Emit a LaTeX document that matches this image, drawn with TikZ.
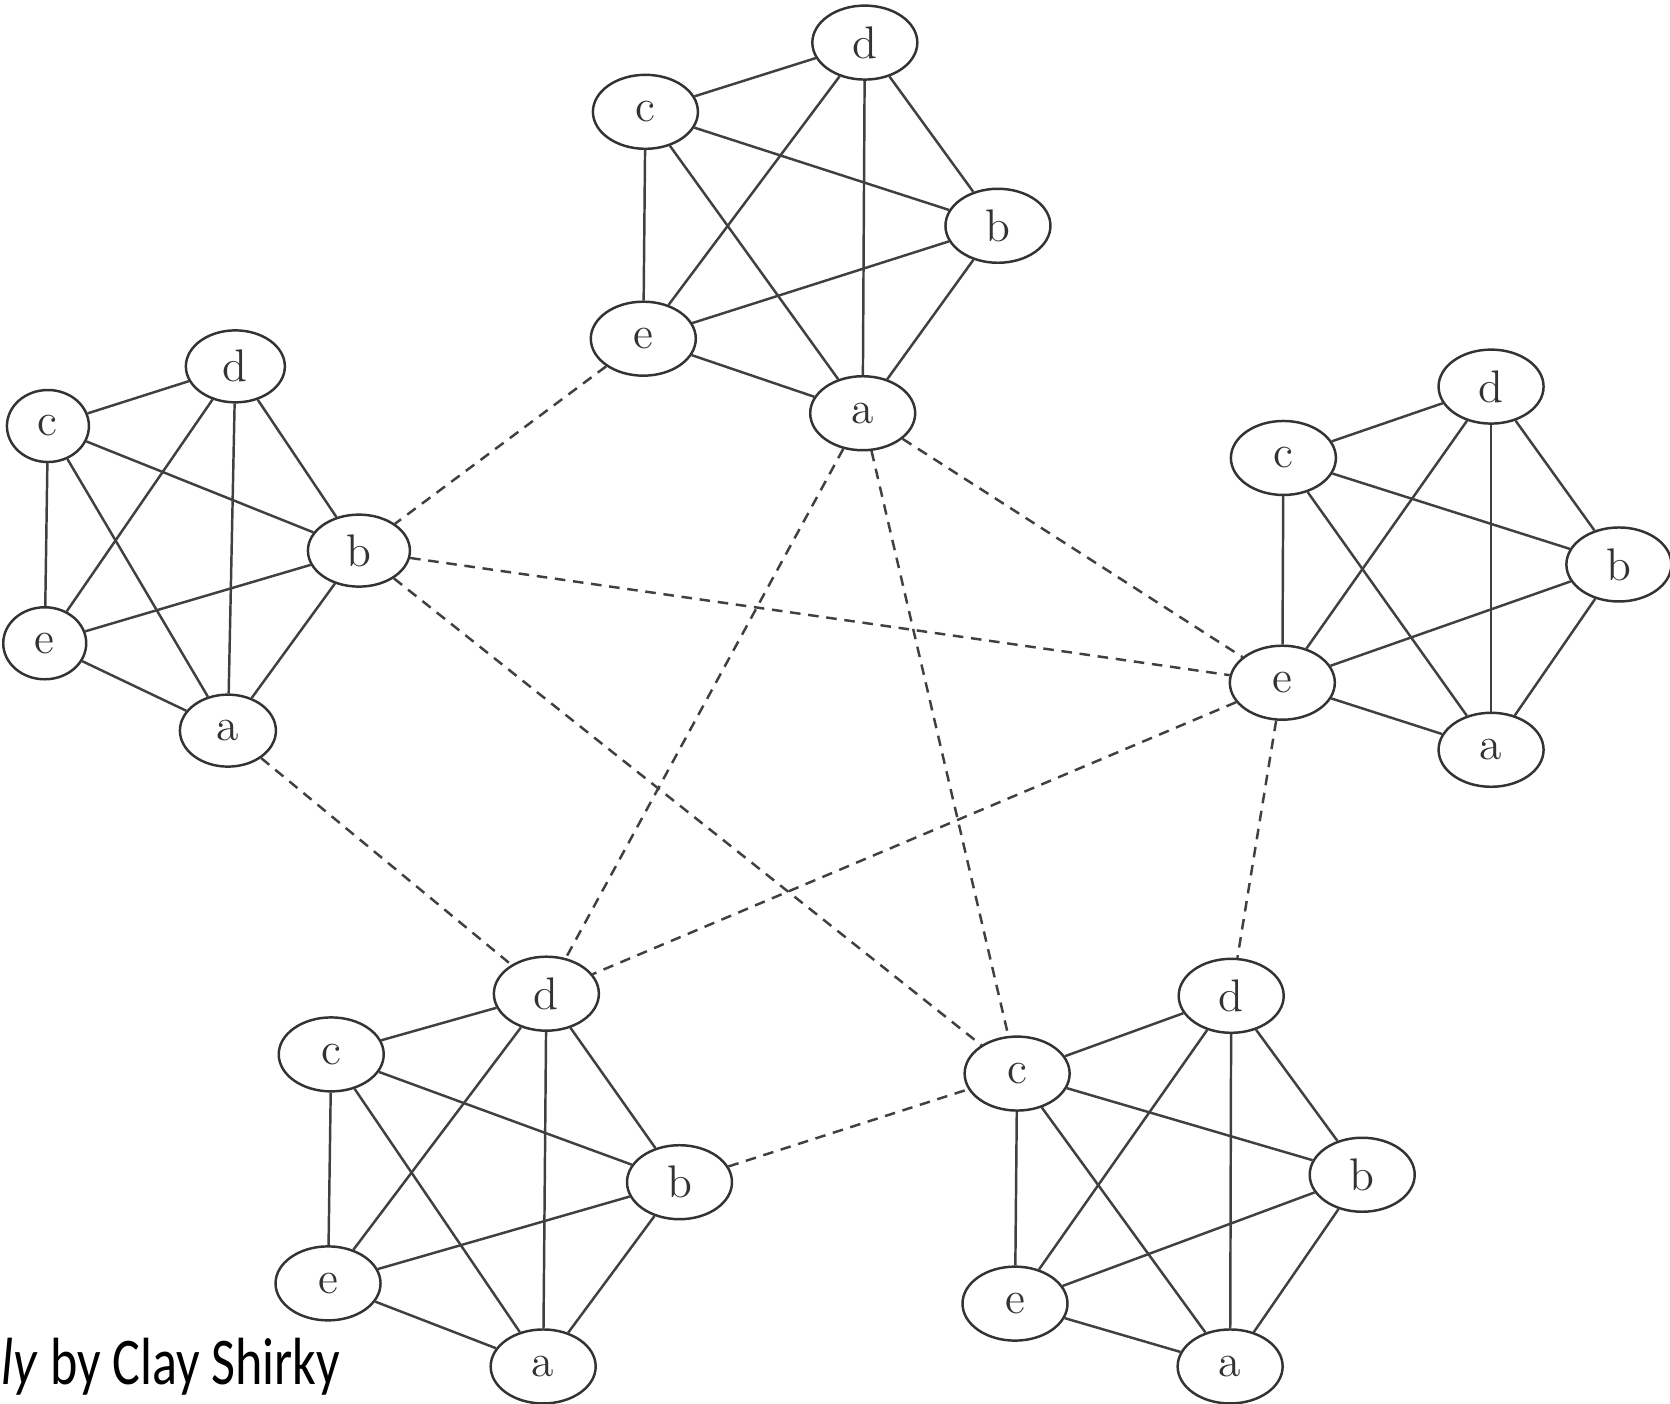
\documentclass[tikz,border=0pt]{standalone}
\usepackage{fontspec}
\newfontfamily\creditfont{Carlito}
\usetikzlibrary{shapes.geometric}

\tikzset{
  vtx/.style={ellipse, draw=black!80, line width=0.7pt, minimum width=1.05cm,
    minimum height=0.74cm, inner sep=0pt, text=black!80, font=\fontsize{13}{15}\selectfont},
  tie/.style={draw=black!75, line width=0.7pt},
  link/.style={draw=black!75, line width=0.7pt, dash pattern=on 3pt off 2.2pt},
}

\begin{document}
\begin{tikzpicture}[x=0.01065cm, y=-0.01065cm]
  \fill[white] (0,0) rectangle (1568,1318);
  \useasboundingbox (0,0) rectangle (1568,1318);
  % ------- top cluster -------
  \foreach \p/\n in {(812,40)/d,(606,105)/c,(937,212)/b,(604,318)/e,(810,388)/a}
    \node[vtx] (T-\n) at \p {\n};
  % ------- left cluster (smaller ovals) -------
  \foreach \p/\n/\w in {(221,344)/d/0.99,(45,400)/c/0.82,(337,517)/b/1.02,(42,604)/e/0.83,(214,686)/a/0.96}
    \node[vtx, minimum width=\w cm, minimum height=0.72cm] (L-\n) at \p {\n};
  % ------- right cluster -------
  \foreach \p/\n in {(1400,363)/d,(1205,430)/c,(1520,530)/b,(1204,641)/e,(1400,704)/a}
    \node[vtx] (R-\n) at \p {\n};
  % ------- bottom left cluster -------
  \foreach \p/\n in {(513,933)/d,(311,990)/c,(638,1110)/b,(308,1205)/e,(510,1283)/a}
    \node[vtx] (BL-\n) at \p {\n};
  % ------- bottom right cluster -------
  \foreach \p/\n in {(1156,935)/d,(955,1008)/c,(1279,1103)/b,(953,1224)/e,(1155,1283)/a}
    \node[vtx] (BR-\n) at \p {\n};
  % every cluster is complete
  \foreach \g in {T,L,R,BL,BR}
    \foreach \u/\v in {a/b,a/c,a/d,a/e,b/c,b/d,b/e,c/d,c/e,d/e}
      \draw[tie] (\g-\u) -- (\g-\v);
  % one weak tie between each pair of clusters
  \foreach \u/\v in {T-e/L-b,T-a/BL-d,T-a/BR-c,T-a/R-e,L-b/R-e,L-b/BR-c,L-a/BL-d,R-e/BL-d,R-e/BR-d,BL-b/BR-c}
    \draw[link] (\u) -- (\v);
  \node[anchor=base west, inner sep=0pt, font=\creditfont\fontsize{19}{22}\selectfont] (credit)
    at (1,1300) {\scalebox{0.78}[1]{\textit{ly} by Clay Shirky}};
\end{tikzpicture}
\end{document}
